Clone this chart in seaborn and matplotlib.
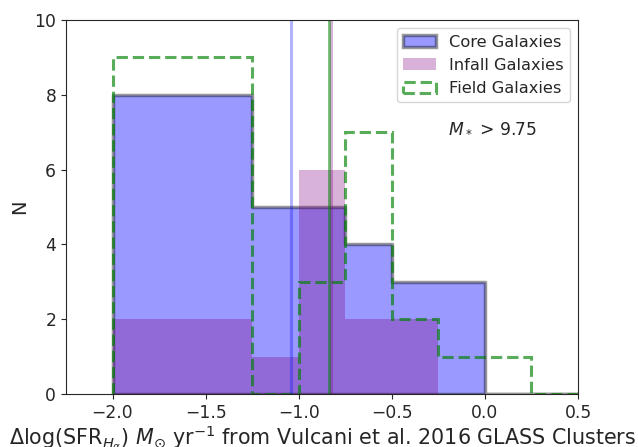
import numpy as np
import pandas as pd
import matplotlib
matplotlib.use("Agg")
import matplotlib.pyplot as plt
from matplotlib.patches import Patch
import seaborn as sns

# bin edges and counts per bin
bin_edges = [-2.0, -1.25, -1.0, -0.75, -0.5, -0.25, 0.0, 0.25, 0.5]
core_counts = [8, 5, 5, 4, 3, 3, 0, 0]
infall_counts = [2, 1, 6, 2, 2, 0, 0, 0]
field_counts = [9, 0, 3, 7, 2, 1, 1, 0]

# medians (vertical lines)
core_median = -1.04
infall_median = -0.826
field_median = -0.835

xticks = [-2.0, -1.5, -1.0, -0.5, 0.0, 0.5]
yticks = [0, 2, 4, 6, 8, 10]

sns.set_style("ticks")
plt.rcParams['font.family'] = ['DejaVu Sans']

centers = [(a + b) / 2 for a, b in zip(bin_edges[:-1], bin_edges[1:])]
df = pd.DataFrame({"x": centers, "core": core_counts,
                   "infall": infall_counts, "field": field_counts})

fig = plt.figure(figsize=(6.38, 4.47), dpi=100)
ax = fig.add_axes([0.1034, 0.1186, 0.8026, 0.8366])

sns.histplot(data=df, x="x", weights="core", bins=bin_edges, element="step",
             fill=True, color="b", alpha=0.4, edgecolor=(0, 0, 0, 0.4),
             linewidth=2.5, ax=ax)
sns.histplot(data=df, x="x", weights="infall", bins=bin_edges, element="step",
             fill=True, color="purple", alpha=0.3, linewidth=0, ax=ax)
ax.hist(df["x"], bins=bin_edges, weights=df["field"], histtype="step",
        color="g", alpha=0.65, linestyle="--", linewidth=2.2)

ax.axvline(core_median, color="b", alpha=0.3, lw=2.2)
ax.axvline(infall_median, color="purple", alpha=0.3, lw=2.2)
ax.axvline(field_median, color="g", alpha=0.55, lw=2.0)

ax.set_xlim(-2.25, 0.5)
ax.set_ylim(0, 10)
ax.set_xticks(xticks)
ax.set_yticks(yticks)
ax.tick_params(labelsize=12.3)
ax.set_ylabel("N", fontsize=14)
ax.set_xlabel(r"$\Delta$log(SFR$_{H_\alpha}$) $M_{\odot}$ yr$^{-1}$ from Vulcani et al. 2016 GLASS Clusters",
              fontsize=14.9, labelpad=1)
ax.text(-0.2, 7.0, r"$M_*$ > 9.75", fontsize=12.3)

handles = [
    Patch(facecolor=(0, 0, 1, 0.4), edgecolor=(0, 0, 0, 0.4), linewidth=2.5),
    Patch(facecolor=(0.5, 0, 0.5, 0.3), edgecolor="none"),
    Patch(facecolor="none", edgecolor=(0, 0.5, 0, 0.65), linestyle="--", linewidth=2.2),
]
ax.legend(handles, ["Core Galaxies", "Infall Galaxies", "Field Galaxies"],
          loc="upper right", fontsize=11.7)

fig.savefig("out.png", dpi=100)
